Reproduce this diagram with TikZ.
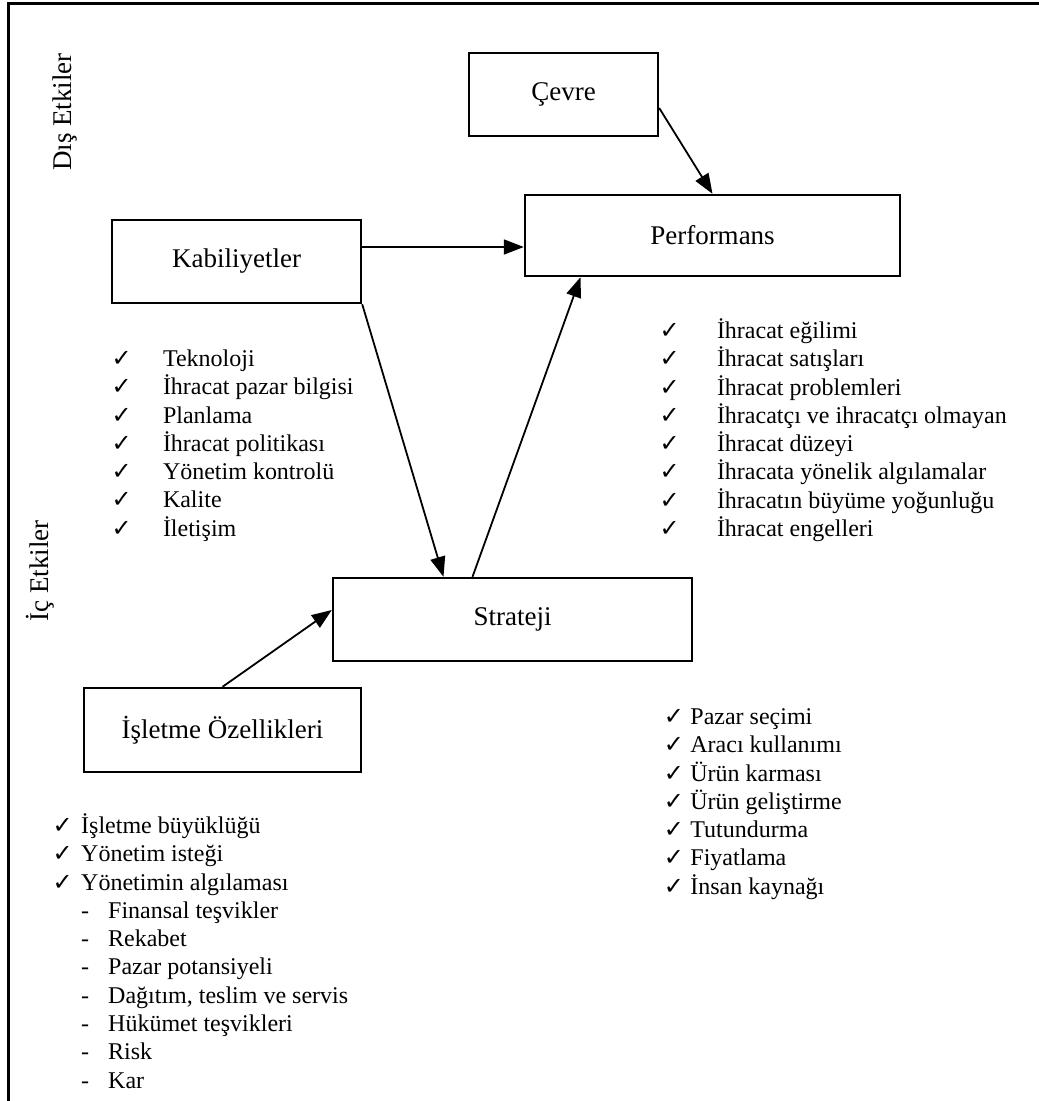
\documentclass[tikz,border=0pt]{standalone}
\usepackage{fontspec}
\setmainfont{Liberation Serif}
\newfontfamily\symfont{DejaVu Sans}
\newcommand\chk{\makebox[0pt][l]{\symfont\fontsize{24}{24}\selectfont ✓}}
\usetikzlibrary{matrix}
\usetikzlibrary{positioning}
\usetikzlibrary{arrows.meta}

\begin{document}
\begin{tikzpicture}[x=1pt,y=-1pt,
  box/.style={draw,line width=2.4pt,inner sep=0pt,
   font=\fontsize{27}{30}\selectfont},
  arr/.style={line width=1.8pt,-{Triangle[length=20pt,width=15pt]}},
  check list/.style={matrix of nodes,inner sep=0pt,
   column sep=#1,row sep=0pt,
   nodes={inner sep=0pt,anchor=base west,
    text height=20pt,text depth=8.3pt,
    font=\fontsize{24}{28}\selectfont}}]

 \useasboundingbox (0,0) rectangle (1039,1101);
 \draw[line width=3pt] (8.5,1101) -- (8.5,3.5) -- (1039,3.5);

 \node[box,minimum width=189pt,minimum height=83pt] (cevre) at (563.5,94.5){Çevre};
 \node[box,minimum width=375pt,minimum height=81pt] (perf) at (712.5,235.5){Performans};
 \node[box,minimum width=249pt,minimum height=83pt] (kab) at (236.5,261.5){Kabiliyetler};
 \node[box,minimum width=359pt,minimum height=83pt] (strat) at (512.5,619.5){Strateji};
 \node[box,minimum width=277pt,minimum height=84pt] (isl) at (222.5,730){İşletme Özellikleri};

 \node[rotate=90,font=\fontsize{27}{30}\selectfont] (dis) at (65,112){Dış Etkiler};
 \node[rotate=90,font=\fontsize{27}{30}\selectfont] (ic) at (40,571){İç Etkiler};

 \node[check list=51pt,anchor=north west] (kablist) at ([yshift=-42pt]kab.south west){
  \chk & Teknoloji\\
  \chk & İhracat pazar bilgisi\\
  \chk & Planlama\\
  \chk & İhracat politikası\\
  \chk & Yönetim kontrolü\\
  \chk & Kalite\\
  \chk & İletişim\\
 };

 \node[check list=57pt,anchor=north west] (perflist) at ([xshift=135pt,yshift=-41pt]perf.south west){
  \chk & İhracat eğilimi\\
  \chk & İhracat satışları\\
  \chk & İhracat problemleri\\
  \chk & İhracatçı ve ihracatçı olmayan\\
  \chk & İhracat düzeyi\\
  \chk & İhracata yönelik algılamalar\\
  \chk & İhracatın büyüme yoğunluğu\\
  \chk & İhracat engelleri\\
 };

 \node[check list=26pt,anchor=north west] (stratlist) at ([xshift=-30pt,yshift=-42pt]strat.south east){
  \chk & Pazar seçimi\\
  \chk & Aracı kullanımı\\
  \chk & Ürün karması\\
  \chk & Ürün geliştirme\\
  \chk & Tutundurma\\
  \chk & Fiyatlama\\
  \chk & İnsan kaynağı\\
 };

 \node[check list=28pt,anchor=north west] (isllist) at ([xshift=-31pt,yshift=-40pt]isl.south west){
  \chk & İşletme büyüklüğü\\
  \chk & Yönetim isteği\\
  \chk & Yönetimin algılaması\\
   & \makebox[27pt][l]{-}Finansal teşvikler\\
   & \makebox[27pt][l]{-}Rekabet\\
   & \makebox[27pt][l]{-}Pazar potansiyeli\\
   & \makebox[27pt][l]{-}Dağıtım, teslim ve servis\\
   & \makebox[27pt][l]{-}Hükümet teşvikleri\\
   & \makebox[27pt][l]{-}Risk\\
   & \makebox[27pt][l]{-}Kar\\
 };

 \draw[arr] ([yshift=-13.5pt]cevre.east) -- (perf.north);
 \draw[arr] ([yshift=14.5pt]kab.east) -- ([yshift=14.5pt]kab.east -| perf.west);
 \draw[arr] (kab.south east) -- ([xshift=-69pt]strat.north);
 \draw[arr] ([xshift=-40pt]strat.north) -- ([xshift=-132pt]perf.south);
 \draw[arr] (isl.north) -- ([yshift=9.5pt]strat.west);
\end{tikzpicture}
\end{document}
